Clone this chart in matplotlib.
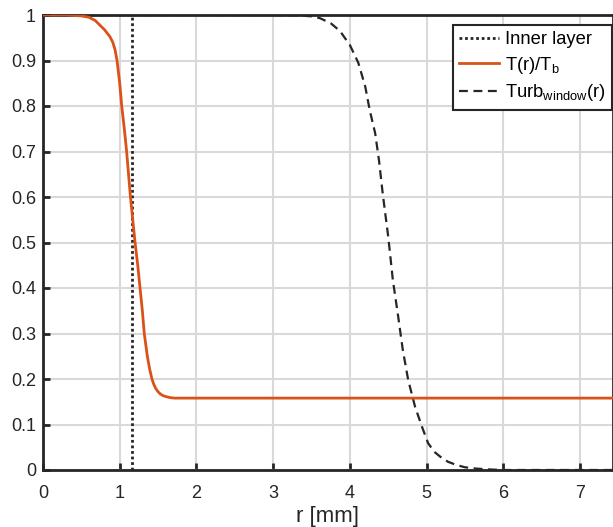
import matplotlib
matplotlib.use("Agg")
import matplotlib.pyplot as plt

plt.rcParams['font.family'] = ['Liberation Sans', 'DejaVu Sans']
plt.rcParams['mathtext.default'] = 'regular'

# Inner layer position [mm]
inner_layer_r = 1.16

# T(r)/T_b curve
t_r = [0.0, 0.3, 0.5, 0.6, 0.68, 0.74, 0.8, 0.87, 0.91, 0.94, 0.965, 1.0, 1.026,
       1.06, 1.09, 1.115, 1.14, 1.17, 1.20, 1.235, 1.265, 1.295, 1.32, 1.36, 1.39,
       1.42, 1.445, 1.47, 1.50, 1.53, 1.57, 1.61, 1.66, 1.72, 1.8, 7.6]
t_val = [1.0, 1.0, 0.998, 0.995, 0.988, 0.978, 0.968, 0.953, 0.94, 0.923, 0.9, 0.85,
         0.8, 0.75, 0.7, 0.65, 0.6, 0.55, 0.5, 0.45, 0.4, 0.35, 0.3, 0.25, 0.222,
         0.2, 0.188, 0.179, 0.172, 0.167, 0.163, 0.161, 0.159, 0.158, 0.158, 0.158]

# Turb_window(r) curve
w_r = [0.0, 3.0, 3.35, 3.5, 3.61, 3.75, 3.87, 4.0, 4.11, 4.20, 4.26, 4.33, 4.38,
       4.43, 4.50, 4.56, 4.63, 4.69, 4.76, 4.85, 4.94, 5.02, 5.10, 5.18, 5.28,
       5.39, 5.5, 5.65, 5.85, 6.0, 7.6]
w_val = [1.0, 1.0, 0.999, 0.997, 0.993, 0.982, 0.965, 0.934, 0.895, 0.843, 0.79,
         0.74, 0.68, 0.605, 0.513, 0.418, 0.337, 0.264, 0.198, 0.139, 0.095, 0.059,
         0.04, 0.029, 0.018, 0.011, 0.006, 0.003, 0.001, 0.0, 0.0]

x_ticks = [0, 1, 2, 3, 4, 5, 6, 7]
y_ticks = [0, 0.1, 0.2, 0.3, 0.4, 0.5, 0.6, 0.7, 0.8, 0.9, 1]
y_ticklabels = ['0', '0.1', '0.2', '0.3', '0.4', '0.5', '0.6', '0.7', '0.8', '0.9', '1']

W, H = 613, 527
fig = plt.figure(figsize=(W / 100, H / 100), dpi=100)
ax = fig.add_axes([43 / W, 1 - 470 / H, (W - 43) / W, (470 - 15) / H])

axc = '#262626'
ax.axvline(inner_layer_r, color=axc, linestyle=(0, (1, 1)), lw=2, label='Inner layer', zorder=3)
ax.plot(t_r, t_val, color='#D95319', lw=2, label='T(r)/T$_b$', zorder=4)
ax.plot(w_r, w_val, color=axc, lw=1.6, linestyle=(0, (4, 2.5)), label='Turb$_{window}$(r)', zorder=3)

ax.set_xlim(0, 7.43)
ax.set_ylim(0, 1)
ax.set_xticks(x_ticks)
ax.set_yticks(y_ticks)
ax.set_yticklabels(y_ticklabels)
ax.grid(True, color='#d9d9d9', lw=1.5, zorder=0)
ax.set_axisbelow(True)
ax.tick_params(direction='in', length=5, width=2, colors=axc, labelsize=13, labelcolor=axc)
ax.tick_params(axis='x', pad=11)
ax.tick_params(axis='y', pad=5)
for s in ax.spines.values():
    s.set_linewidth(2)
    s.set_color(axc)
ax.set_xlabel('r [mm]', fontsize=16, color=axc, labelpad=3)

leg = ax.legend(loc='upper right', bbox_to_anchor=(612 / W, 1 - 25 / H),
                bbox_transform=fig.transFigure, fontsize=13.2,
                frameon=True, fancybox=False, edgecolor=axc, framealpha=1,
                handlelength=2.2, handletextpad=0.3, borderpad=0.35,
                labelspacing=0.35, borderaxespad=0)
leg.get_frame().set_linewidth(1.5)

fig.savefig('out.png', dpi=100)
